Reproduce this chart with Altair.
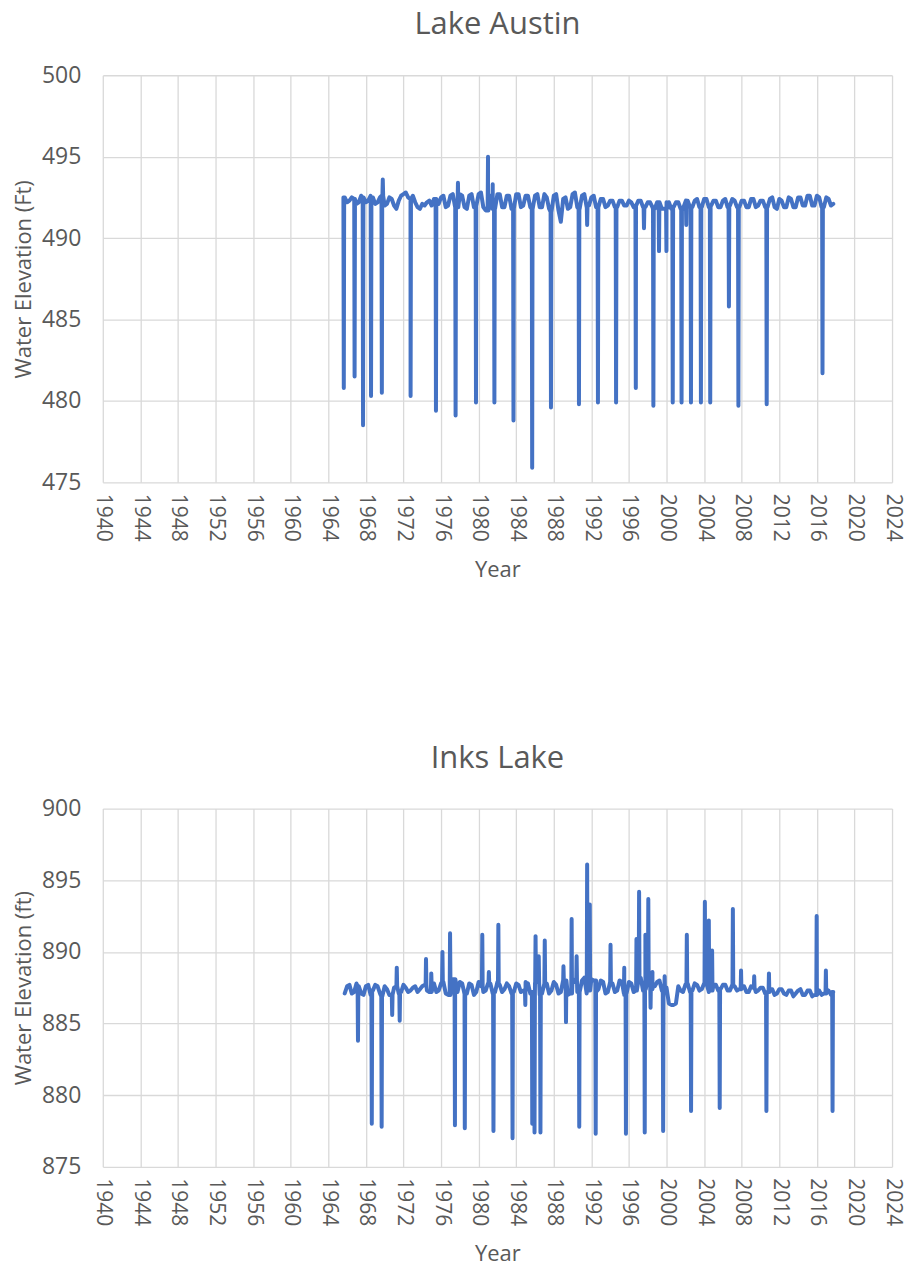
import altair as alt
import pandas as pd

# ---------------- data ----------------
# baseline readings every half year starting at BASE_START, plus readings
# half-way between them (starting at BASE_START + 0.25)
BASE_START = 1965.75
BASE_STEP = 0.5

austin_base = [
    492.5, 492.3, 492.4, 492.2, 492.5, 492.3, 492.5, 492.2, 492.6, 492.1,
    492.4, 491.8, 492.6, 492.8, 492.4, 492.2, 491.8, 492.0, 492.3, 492.4,
    492.1, 492.6, 492.0, 492.7, 491.9, 492.6, 491.8, 492.7, 492.0, 492.8,
    491.7, 492.6, 491.8, 492.7, 491.9, 492.6, 491.8, 492.7, 492.0, 492.6,
    491.8, 492.7, 491.9, 492.5, 491.6, 492.7, 491.0, 492.5, 491.9, 492.8,
    491.8, 492.7, 492.0, 492.6, 491.9, 492.4, 492.0, 492.3, 491.9, 492.3,
    492.0, 492.2, 492.0, 492.3, 491.9, 492.2, 491.8, 492.2, 491.8, 492.2,
    491.9, 492.2, 491.8, 492.3, 491.9, 492.4, 491.9, 492.4, 492.0, 492.3,
    491.9, 492.4, 492.0, 492.3, 491.9, 492.3, 491.9, 492.4, 492.0, 492.3,
    491.9, 492.5, 491.8, 492.3, 491.9, 492.4, 491.9, 492.5, 492.0, 492.6,
    492.0, 492.5, 491.9, 492.4, 492.1,
]
austin_mid = [
    492.2, 492.5, 492.1, 492.6, 492.2, 492.6, 492.1, 492.5, 492.0, 492.5,
    492.0, 492.3, 492.7, 492.5, 492.6, 491.9, 492.1, 492.2, 492.0, 492.3,
    492.5, 491.9, 492.6, 491.9, 492.7, 491.9, 492.6, 491.9, 492.7, 491.9,
    492.7, 491.8, 492.7, 491.9, 492.6, 491.8, 492.7, 491.9, 492.6, 491.9,
    492.6, 491.9, 492.7, 491.8, 492.6, 491.7, 492.4, 491.8, 492.7, 491.9,
    492.6, 491.9, 492.5, 491.9, 492.4, 491.9, 492.3, 491.9, 492.3, 492.0,
    492.3, 491.9, 492.3, 491.9, 492.2, 491.9, 492.2, 491.8, 492.2, 491.8,
    492.2, 491.8, 492.2, 491.9, 492.3, 491.9, 492.4, 491.9, 492.3, 491.9,
    492.3, 491.9, 492.4, 491.9, 492.3, 491.9, 492.4, 491.9, 492.3, 491.9,
    492.4, 491.9, 492.4, 491.9, 492.5, 491.9, 492.5, 492.0, 492.6, 492.0,
    492.6, 491.9, 492.5, 492.0,
]

austin_spike_years = [
    1965.65, 1966.8, 1967.7, 1968.55, 1969.7, 1969.8, 1972.76, 1975.46,
    1977.55, 1977.8, 1979.72, 1981.0, 1981.5, 1981.68, 1983.71, 1985.7,
    1987.7, 1990.68, 1991.55, 1992.7, 1994.63, 1996.73, 1997.6, 1998.6,
    1999.2, 1999.99, 2000.66, 2001.6, 2002.1, 2002.6, 2003.66, 2004.65,
    2006.64, 2007.65, 2010.66, 2016.6,
]
austin_spike_values = [
    480.8, 481.5, 478.5, 480.3, 480.5, 493.6, 480.3, 479.4,
    479.1, 493.4, 479.9, 495.0, 493.3, 479.9, 478.8, 475.9,
    479.6, 479.8, 490.8, 479.9, 479.9, 480.8, 490.6, 479.7,
    489.2, 489.2, 479.9, 479.9, 490.8, 479.9, 479.9, 479.9,
    485.8, 479.7, 479.8, 481.7,
]

inks_base = [
    887.1, 887.7, 887.2, 887.6, 887.0, 887.7, 887.3, 887.6, 886.9, 887.4,
    887.0, 887.6, 887.2, 887.5, 887.3, 887.6, 887.4, 887.7, 887.2, 887.8,
    887.3, 887.9, 887.0, 888.1, 887.2, 887.8, 887.1, 887.7, 887.2, 887.6,
    887.3, 887.8, 887.2, 887.7, 887.4, 887.6, 887.2, 887.7, 887.3, 887.8,
    887.2, 887.9, 887.1, 887.8, 887.3, 887.7, 887.2, 888.0, 887.1, 887.9,
    887.2, 888.2, 887.3, 888.0, 887.4, 887.9, 887.2, 887.8, 887.3, 887.9,
    887.1, 887.8, 887.3, 888.2, 887.4, 887.9, 887.6, 888.0, 887.2, 886.4,
    886.3, 887.6, 887.2, 887.8, 887.3, 887.7, 887.4, 887.8, 887.3, 887.7,
    887.4, 887.7, 887.3, 887.6, 887.4, 887.6, 887.2, 887.5, 887.3, 887.5,
    887.2, 887.4, 887.1, 887.4, 887.0, 887.3, 887.1, 887.4, 887.0, 887.3,
    887.0, 887.3, 887.1, 887.3, 887.2,
]
inks_mid = [
    887.6, 887.1, 887.8, 887.1, 887.6, 887.0, 887.7, 887.1, 887.6, 887.0,
    887.5, 887.1, 887.7, 887.2, 887.5, 887.2, 887.6, 887.3, 887.7, 887.2,
    887.8, 887.1, 888.0, 887.0, 887.9, 887.2, 887.8, 887.0, 887.9, 887.2,
    887.8, 887.1, 887.9, 887.2, 887.8, 887.1, 887.8, 887.2, 887.9, 887.1,
    887.8, 887.0, 887.9, 887.1, 887.9, 887.1, 888.0, 887.0, 888.1, 887.2,
    888.0, 887.1, 888.1, 887.2, 888.0, 887.1, 887.9, 887.2, 888.0, 887.0,
    887.9, 887.2, 888.0, 887.3, 888.1, 887.4, 887.9, 887.3, 887.5, 886.3,
    886.4, 887.3, 887.7, 887.2, 887.8, 887.3, 887.8, 887.2, 887.7, 887.3,
    887.7, 887.3, 887.7, 887.3, 887.6, 887.2, 887.6, 887.2, 887.5, 887.1,
    887.4, 887.0, 887.4, 887.1, 887.3, 886.9, 887.3, 887.0, 887.3, 886.9,
    887.3, 887.0, 887.4, 887.0,
]

inks_spike_years = [
    1967.16, 1968.63, 1969.68, 1970.8, 1971.29, 1971.6, 1974.4, 1974.96,
    1976.15, 1976.96, 1977.48, 1978.53, 1980.39, 1981.09, 1981.58, 1982.1,
    1983.61, 1984.97, 1985.71, 1985.95, 1986.06, 1986.4, 1986.58, 1987.04,
    1989.03, 1989.3, 1989.9, 1990.43, 1990.71, 1991.55, 1991.83, 1992.46,
    1994.04, 1995.5, 1995.68, 1996.8, 1997.08, 1997.68, 1997.75, 1998.06,
    1998.3, 1998.5, 1999.64, 1999.8, 2002.16, 2002.61, 2004.08, 2004.5,
    2004.85, 2005.66, 2007.06, 2007.93, 2009.33, 2010.63, 2010.9, 2015.98,
    2016.96, 2017.67,
]
inks_spike_values = [
    883.8, 878.0, 877.8, 885.6, 888.9, 885.2, 889.5, 888.5,
    890.0, 891.3, 877.9, 877.7, 891.2, 888.6, 877.5, 891.9,
    877.0, 886.3, 878.0, 877.4, 891.1, 889.7, 877.4, 890.8,
    889.0, 885.1, 892.3, 889.7, 877.8, 896.1, 893.3, 877.3,
    890.5, 888.9, 877.3, 890.9, 894.2, 877.4, 891.2, 893.7,
    886.1, 888.6, 877.5, 888.3, 891.2, 878.9, 893.5, 892.2,
    890.1, 879.1, 893.0, 888.7, 888.3, 878.9, 888.5, 892.5,
    888.7, 878.9,
]

X_TICKS = list(range(1940, 2025, 4))


def build(base, mid, spike_years, spike_values):
    rows = [(BASE_START + BASE_STEP * i, v) for i, v in enumerate(base)]
    rows += [(BASE_START + BASE_STEP * i + 0.25, v) for i, v in enumerate(mid)]
    for yr, val in zip(spike_years, spike_values):
        i = int(round((yr - BASE_START) / BASE_STEP))
        i = max(0, min(len(base) - 1, i))
        shoulder = base[i]
        rows.append((yr - 0.04, shoulder))
        rows.append((yr, val))
        rows.append((yr + 0.04, shoulder))
    df = pd.DataFrame(rows, columns=["Year", "Elevation"]).sort_values("Year")
    return df.reset_index(drop=True)


austin_df = build(austin_base, austin_mid, austin_spike_years, austin_spike_values)
inks_df = build(inks_base, inks_mid, inks_spike_years, inks_spike_values)

FONT = "Open Sans"
TEXT = "#595959"
GRID = "#D9D9D9"
LINE = "#4472C4"


def panel(df, title, ytitle, ydomain, height):
    yvals = list(range(ydomain[0], ydomain[1] + 1, 5))
    return alt.Chart(df).mark_line(
        color=LINE, strokeWidth=4, strokeJoin="round", strokeCap="round"
    ).encode(
        x=alt.X(
            "Year:Q",
            scale=alt.Scale(domain=[1940, 2024], nice=False, zero=False),
            axis=alt.Axis(values=X_TICKS, format="d", labelAngle=90,
                          labelFontSize=21, title="Year",
                          labelPadding=11, titlePadding=18),
        ),
        y=alt.Y(
            "Elevation:Q",
            scale=alt.Scale(domain=ydomain, nice=False, zero=False),
            axis=alt.Axis(values=yvals, format="d", title=ytitle,
                          labelFontSize=23, labelPadding=22, titlePadding=6),
        ),
    ).properties(
        width=791,
        height=height,
        title=alt.TitleParams(title, fontSize=31, font=FONT, color=TEXT,
                              fontWeight="normal", offset=23, frame="group"),
    )


top = panel(austin_df, "Lake Austin", "Water Elevation (Ft)", [475, 500], 408)
bottom = panel(inks_df, "Inks Lake", "Water Elevation (ft)", [875, 900], 359)

chart = alt.vconcat(top, bottom, spacing=162).properties(
    padding={"left": 4, "top": 0, "right": 3, "bottom": 0}
).configure(
    background="white"
).configure_view(
    stroke=None
).configure_axis(
    domain=False,
    ticks=False,
    grid=True,
    gridColor=GRID,
    gridWidth=1.3,
    labelFont=FONT,
    labelColor=TEXT,
    titleFont=FONT,
    titleFontSize=22,
    titleFontWeight="normal",
    titleColor=TEXT,
)

chart.save("out.html", embed_options={"renderer": "svg", "actions": False})
